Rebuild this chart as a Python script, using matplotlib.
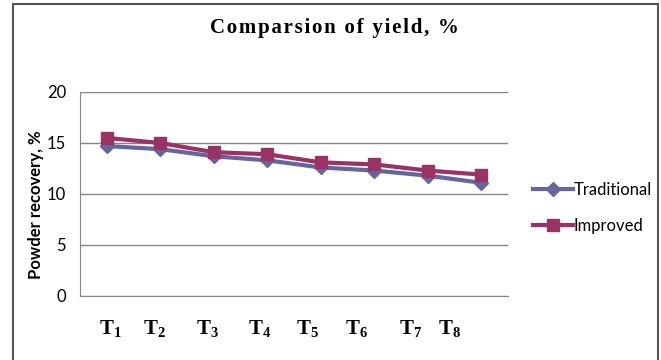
import matplotlib.pyplot as plt
from matplotlib.lines import Line2D
from matplotlib.patches import Rectangle

plt.rcParams['font.family'] = ['Lato', 'DejaVu Sans']
plt.rcParams['mathtext.fontset'] = 'custom'
plt.rcParams['mathtext.rm'] = 'Liberation Serif'
plt.rcParams['mathtext.bf'] = 'Liberation Serif:bold'

# data
treatments = ["T1", "T2", "T3", "T4", "T5", "T6", "T7", "T8"]
traditional = [14.7, 14.4, 13.7, 13.3, 12.6, 12.3, 11.8, 11.1]
improved = [15.5, 15.0, 14.1, 13.9, 13.1, 12.9, 12.3, 11.9]
# the T labels are loose text boxes in the original, not centred on the points
label_pos = [1.06, 1.89, 2.88, 3.85, 4.75, 5.67, 6.68, 7.41]
title = "Comparsion of yield, %"

blue = "#66669f"
red = "#993366"

fig = plt.figure(figsize=(6.61, 3.6), dpi=100)
ax = fig.add_axes([80 / 661, 1 - 296 / 360, 428 / 661, 204 / 360])

x = list(range(1, len(treatments) + 1))
ax.plot(x, traditional, color=blue, lw=3, marker="D", ms=7, label="Traditional")
ax.plot(x, improved, color=red, lw=3, marker="s", ms=9, label="Improved")

ax.set_xlim(0.5, len(treatments) + 0.5)
ax.set_ylim(0, 20)
ax.set_yticks([0, 5, 10, 15, 20])
ax.yaxis.grid(True, color="#868686", lw=1)
ax.set_axisbelow(True)
for s in ["top", "right"]:
    ax.spines[s].set_visible(False)
ax.spines["left"].set_color("#868686")
ax.spines["bottom"].set_color("#868686")
ax.tick_params(axis="y", length=0, pad=10, labelsize=12)
ax.set_xticks([])
for p, t in zip(label_pos, treatments):
    ax.text(p, -3.2, r"$\mathbf{T_{%s}}$" % t[1:], ha="center", va="center",
            fontsize=15)
ax.set_ylabel("Powder recovery, %", fontsize=12, fontweight="bold")
ax.yaxis.set_label_coords(-0.085, 0.45)

# letter spaced title like the original (hair spaces between letters)
spaced = "\u200a".join(title)
fig.text(334 / 661, 1 - 28 / 360, spaced, ha="center", va="center",
         family="Liberation Serif", fontweight="bold", fontsize=15)

handles = [Line2D([], [], color=blue, lw=3, marker="D", ms=7),
           Line2D([], [], color=red, lw=3, marker="s", ms=9)]
fig.legend(handles, ["Traditional", "Improved"], loc="center left",
           bbox_to_anchor=(518 / 661, 1 - 208 / 360), frameon=False,
           fontsize=12, handlelength=2.4, handletextpad=0.05, labelspacing=1.2)

fig.patches.append(Rectangle((12.5 / 661, -0.1), 645 / 661, 1.1 - 4.5 / 360,
                             transform=fig.transFigure, fill=False,
                             edgecolor="#555555", lw=1.5))

fig.savefig("out.png", dpi=100)
